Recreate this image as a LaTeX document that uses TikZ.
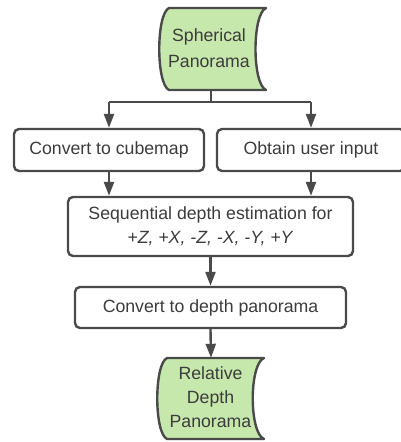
\documentclass[tikz,border=0pt]{standalone}
\usepackage{fontspec}
\setmainfont{Liberation Sans}
\usetikzlibrary{arrows.meta}
\definecolor{lineC}{HTML}{4A4A4A}
\definecolor{textC}{HTML}{3C3C3C}
\definecolor{greenF}{HTML}{C7E8AC}
\begin{document}
\begin{tikzpicture}[x=1pt,y=-1pt,
  every node/.style={text=textC, font=\fontsize{17.7}{24}\selectfont},
  procbox/.style={draw=lineC, line width=2.4pt, rounded corners=5pt, fill=white, align=center, inner sep=0pt},
  datashape/.style={draw=lineC, line width=2.4pt, fill=greenF, line join=round},
  conn/.style={draw=lineC, line width=2.4pt},
  arr/.style={conn, -{Triangle[length=14pt,width=10pt]}},
  label/.style={align=center, inner sep=0pt}
]
\useasboundingbox (0,0) rectangle (400,442);

% top data shape
\path[datashape] (169,8) -- (266,8) .. controls (252,14) and (252,84) .. (266,90)
  -- (169,90) .. controls (156,84) and (156,14) .. (169,8) -- cycle;
\node[label, minimum width=90pt, minimum height=82pt] (top) at (211,49) {};
\node[label, font=\fontsize{17.7}{26}\selectfont] (toptext) at (209,48) {Spherical\\Panorama};

% boxes
\node[procbox, minimum width=190pt, minimum height=42pt] (cube) at (109,150) {Convert to cubemap};
\node[procbox, minimum width=188pt, minimum height=42pt] (user) at (311,150) {Obtain user input};
\node[procbox, minimum width=285pt, minimum height=59pt] (seq) at (210.5,226.5)
  {Sequential depth estimation for\\\textit{+Z, +X, -Z, -X, -Y, +Y}};
\node[procbox, minimum width=271pt, minimum height=41pt] (dpan) at (210.5,307.5) {Convert to depth panorama};

% bottom data shape
\path[datashape] (167,358) -- (264,358) .. controls (249,364) and (249,433) .. (264,439)
  -- (167,439) .. controls (154,433) and (154,364) .. (167,358) -- cycle;
\node[label, minimum width=90pt, minimum height=81pt] (bot) at (211,398.5) {};
\node[label] (bottext) at (210.5,397) {Relative\\Depth\\Panorama};

% connectors
\coordinate (split) at (211,102);
\coordinate (lsplit) at (cube.north |- split);
\coordinate (rsplit) at (user.north |- split);
\draw[conn] (top.south) -- (split);
\draw[conn] (lsplit) -- (rsplit);
\draw[arr] (lsplit) -- (cube.north);
\draw[arr] (rsplit) -- (user.north);
\draw[arr] (cube.south) -- (cube.south |- seq.north);
\draw[arr] (user.south) -- (user.south |- seq.north);
\draw[arr] (seq.south -| dpan.north) -- (dpan.north);
\draw[arr] (dpan.south) -- (bot.north);
\end{tikzpicture}
\end{document}
